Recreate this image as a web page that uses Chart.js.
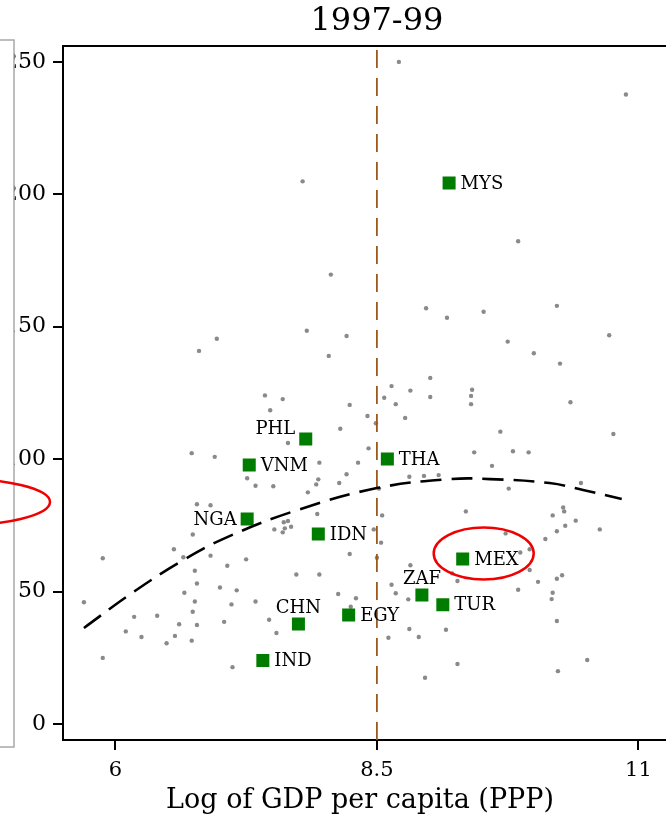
<!DOCTYPE html>
<html>
<head>
<meta charset="utf-8">
<script src="https://cdn.jsdelivr.net/npm/chart.js@4.4.1/dist/chart.umd.min.js"></script>
<style>
  html, body { margin: 0; padding: 0; background: #fff; overflow: hidden; }
  #wrap { position: relative; width: 666px; height: 820px; overflow: hidden; }
  #chart { position: absolute; left: 0; top: 0; }
</style>
</head>
<body>
<div id="wrap"><canvas id="chart" width="700" height="820"></canvas></div>
<script>
// all other countries (grey dots)
const otherX = [6.80, 6.97, 6.73, 6.95, 6.78, 6.91, 6.74, 6.56, 5.88, 6.65, 6.91, 6.76, 6.78, 6.66, 7.00, 5.70,
  6.76, 6.74, 6.18, 6.40, 6.61, 6.78, 6.10, 6.25, 6.57, 6.49, 6.73, 5.88, 8.71, 7.79, 8.06, 10.88, 9.85, 8.97,
  9.17, 7.83, 8.21, 8.04, 9.01, 8.64, 8.82, 8.57, 9.01, 7.43, 7.60, 7.48, 8.24, 8.68, 8.41, 8.77, 8.49, 8.15,
  7.65, 8.42, 7.95, 8.32, 7.26, 7.34, 7.51, 7.94, 7.92, 8.21, 8.14, 7.84, 8.81, 8.95, 9.09, 8.52, 7.93, 8.55,
  7.61, 7.65, 7.68, 7.62, 7.60, 7.52, 8.47, 9.52, 10.22, 10.72, 9.75, 10.00, 10.25, 9.41, 9.40, 9.40, 10.35,
  9.68, 10.76, 9.43, 9.80, 9.95, 9.60, 9.76, 10.45, 9.35, 10.28, 10.29, 10.18, 10.40, 10.30, 10.63, 10.22,
  10.11, 9.73, 8.54, 8.24, 8.50, 7.07, 7.25, 7.73, 7.95, 8.82, 8.64, 8.68, 8.80, 7.16, 7.34, 7.11, 8.13, 8.30,
  8.25, 7.47, 7.04, 7.54, 8.81, 8.90, 8.61, 9.16, 7.12, 8.96, 9.87, 9.96, 9.96, 9.22, 9.27, 10.04, 10.22,
  10.27, 9.85, 10.18, 10.17, 10.22, 9.27, 10.51, 10.23];
const otherY = [140.9, 145.5, 102.3, 100.9, 83.0, 82.6, 71.6, 66.0, 62.6, 63.0, 63.6, 57.9, 53.1, 49.6, 51.6, 46.0,
  46.3, 42.4, 40.5, 40.9, 37.7, 37.4, 35.0, 32.9, 33.3, 30.5, 31.5, 25.0, 250.0, 204.9, 169.7, 237.7, 182.3, 157.0,
  153.4, 148.5, 146.5, 139.0, 130.7, 127.6, 125.9, 123.2, 123.5, 124.1, 122.7, 118.5, 120.5, 120.8, 116.3, 115.6, 113.6, 111.5,
  106.1, 104.1, 98.7, 98.7, 92.8, 90.0, 89.8, 92.4, 90.5, 94.3, 91.0, 87.5, 93.4, 93.7, 94.0, 88.9, 79.3, 78.8,
  76.2, 76.7, 74.5, 73.9, 72.4, 73.5, 73.5, 155.7, 157.9, 146.8, 144.4, 140.0, 136.1, 126.2, 123.9, 120.8, 121.5,
  110.4, 109.5, 102.6, 103.0, 102.6, 97.5, 88.9, 91.0, 80.3, 81.8, 80.3, 78.8, 76.8, 74.9, 73.5, 72.8,
  69.9, 72.0, 68.5, 64.2, 62.8, 59.8, 62.2, 56.5, 56.5, 60.0, 52.6, 49.4, 47.1, 50.5, 46.3, 45.2, 49.1, 47.5,
  44.3, 39.4, 38.6, 34.4, 35.9, 32.9, 32.6, 35.6, 21.5, 17.5, 64.8, 66.0, 58.2, 56.9, 54.0, 53.7, 54.9,
  56.2, 50.7, 49.6, 47.2, 38.9, 22.7, 24.2, 20.0];

// highlighted countries (green squares)
const focusCodes = ['MYS', 'PHL', 'VNM', 'THA', 'NGA', 'IDN', 'MEX', 'ZAF', 'TUR', 'CHN', 'EGY', 'IND'];
const focusX = [9.19, 7.82, 7.28, 8.60, 7.26, 7.94, 9.32, 8.93, 9.13, 7.75, 8.23, 7.41];
const focusY = [204.3, 107.6, 97.8, 100.1, 77.4, 71.8, 62.3, 48.7, 45.1, 37.8, 41.2, 24.0];
const labelSide = ['right', 'leftAbove', 'right', 'right', 'left', 'right', 'right', 'above', 'right', 'above', 'right', 'right'];
const circled = ['MEX'];

// quadratic fit
const fitX = [5.70, 6.17, 6.65, 7.07, 7.74, 8.50, 9.20, 9.58, 10.15, 10.47, 10.84];
const fitY = [36.3, 49.8, 61.9, 70.6, 80.8, 89.1, 92.5, 92.5, 91.0, 88.4, 85.0];

const threshold = 8.5;
const xTicks = [6, 8.5, 11];
const yTicks = [0, 50, 100, 150, 200, 250];
const xMin = 5.5, xMax = 11.5, yMin = -6, yMax = 256;
const xTitle = 'Log of GDP per capita (PPP)';

const FONT = '"DejaVu Serif", serif';
Chart.defaults.font.family = FONT;
Chart.defaults.color = '#000';

const decorPlugin = {
  id: 'decor',
  beforeDatasetsDraw(chart) {
    const { ctx, chartArea } = chart;
    ctx.save();
    ctx.strokeStyle = '#000';
    ctx.lineWidth = 2;
    ctx.beginPath();
    ctx.moveTo(chartArea.left - 1, chartArea.top);
    ctx.lineTo(chartArea.right, chartArea.top);
    ctx.stroke();
    ctx.restore();
  },
  afterDatasetsDraw(chart) {
    const ctx = chart.ctx;
    const meta = chart.getDatasetMeta(1);
    ctx.save();
    ctx.font = '18px ' + FONT;
    ctx.fillStyle = '#000';
    ctx.textBaseline = 'middle';
    meta.data.forEach((pt, i) => {
      const code = focusCodes[i];
      const side = labelSide[i];
      if (side === 'right') {
        ctx.textAlign = 'left';
        ctx.fillText(code, pt.x + 11.5, pt.y + 1);
      } else if (side === 'left') {
        ctx.textAlign = 'right';
        ctx.fillText(code, pt.x - 10.5, pt.y + 1);
      } else if (side === 'leftAbove') {
        ctx.textAlign = 'right';
        ctx.fillText(code, pt.x - 10.5, pt.y - 10);
      } else {
        ctx.textAlign = 'center';
        ctx.fillText(code, pt.x, pt.y - 16);
      }
    });
    // red ring round the circled country
    ctx.strokeStyle = '#f00000';
    ctx.lineWidth = 2.5;
    meta.data.forEach((pt, i) => {
      if (!circled.includes(focusCodes[i])) return;
      ctx.beginPath();
      ctx.ellipse(pt.x + 21, pt.y - 5.5, 50, 26, 0, 0, Math.PI * 2);
      ctx.stroke();
    });
    ctx.restore();
  },
  afterDraw(chart) {
    const ctx = chart.ctx;
    ctx.save();
    // x axis title, centred on the whole panel rather than the plot box
    ctx.font = '27px ' + FONT;
    ctx.fillStyle = '#000';
    ctx.textAlign = 'center';
    ctx.textBaseline = 'middle';
    ctx.fillText(xTitle, 360, 801);
    // edge of the neighbouring panel on the left
    ctx.fillStyle = '#fff';
    ctx.fillRect(-5, 40, 19, 707);
    ctx.strokeStyle = '#a8a8a8';
    ctx.lineWidth = 1.5;
    ctx.strokeRect(-5, 40, 19, 707);
    ctx.strokeStyle = '#f00000';
    ctx.lineWidth = 2.5;
    ctx.beginPath();
    ctx.ellipse(-50, 502, 100, 24, 0, 0, Math.PI * 2);
    ctx.stroke();
    ctx.restore();
  }
};

new Chart(document.getElementById('chart'), {
  data: {
    datasets: [
      {
        type: 'line',
        label: 'threshold',
        data: [{ x: threshold, y: yMin }, { x: threshold, y: yMax }],
        borderColor: '#9b5a1c',
        borderWidth: 1.8,
        borderDash: [18, 10],
        pointRadius: 0,
        order: 3
      },
      {
        type: 'scatter',
        label: 'focus',
        data: focusX.map((x, i) => ({ x: x, y: focusY[i] })),
        pointStyle: 'rect',
        pointRadius: 9.2,
        backgroundColor: '#007d00',
        borderWidth: 0,
        order: 2
      },
      {
        type: 'line',
        label: 'fit',
        data: fitX.map((x, i) => ({ x: x, y: fitY[i] })),
        borderColor: '#000',
        borderWidth: 2.6,
        borderDash: [21, 10],
        tension: 0.4,
        pointRadius: 0,
        order: 1
      },
      {
        type: 'scatter',
        label: 'others',
        data: otherX.map((x, i) => ({ x: x, y: otherY[i] })),
        pointRadius: 2.2,
        backgroundColor: '#8a8a8a',
        borderWidth: 0,
        order: 4
      }
    ]
  },
  options: {
    responsive: false,
    animation: false,
    layout: { padding: { left: 0, right: 9, top: 0, bottom: 0 } },
    plugins: {
      legend: { display: false },
      tooltip: { enabled: false },
      title: {
        display: true,
        text: '1997-99',
        fullSize: false,
        color: '#000',
        font: { family: FONT, size: 32, weight: 'normal' },
        padding: { top: 2, bottom: 5.6 }
      }
    },
    scales: {
      x: {
        type: 'linear',
        min: xMin,
        max: xMax,
        afterBuildTicks: s => { s.ticks = xTicks.map(v => ({ value: v })); },
        afterFit: s => { s.height = 80; },
        grid: { drawOnChartArea: false, drawTicks: true, tickLength: 10, color: '#000', lineWidth: 2 },
        border: { display: true, color: '#000', width: 2 },
        ticks: { font: { size: 21 }, color: '#000', padding: 8 },
        title: { display: false }
      },
      y: {
        type: 'linear',
        min: yMin,
        max: yMax,
        afterBuildTicks: s => { s.ticks = yTicks.map(v => ({ value: v })); },
        afterFit: s => { s.width = 63; },
        grid: { drawOnChartArea: false, drawTicks: true, tickLength: 10, color: '#000', lineWidth: 2 },
        border: { display: true, color: '#000', width: 2 },
        ticks: { font: { size: 22 }, color: '#000', padding: 7 }
      }
    }
  },
  plugins: [decorPlugin]
});
</script>
</body>
</html>
